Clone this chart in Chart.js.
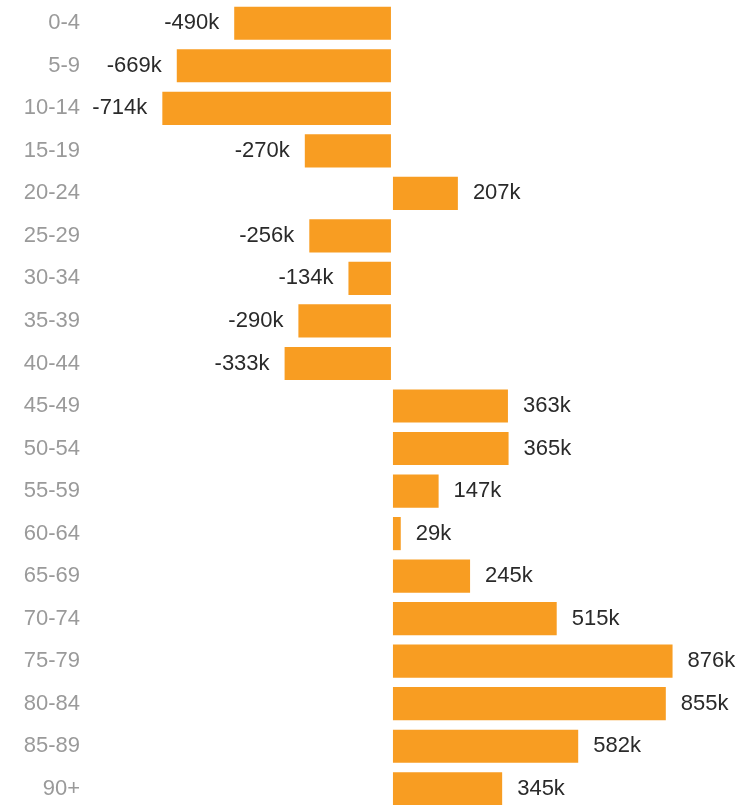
<!DOCTYPE html>
<html>
<head>
<meta charset="utf-8">
<script src="https://cdn.jsdelivr.net/npm/chart.js@4/dist/chart.umd.min.js"></script>
<style>
  html, body { margin: 0; padding: 0; background: #fff; overflow: hidden; }
  #wrap { width: 747px; height: 810px; position: relative; }
</style>
</head>
<body>
<div id="wrap"><canvas id="myChart"></canvas></div>
<script>
// age groups and change in population (thousands)
const grupos = ['0-4', '5-9', '10-14', '15-19', '20-24', '25-29', '30-34', '35-39', '40-44',
  '45-49', '50-54', '55-59', '60-64', '65-69', '70-74', '75-79', '80-84', '85-89', '90+'];
const cambio = [-490, -669, -714, -270, 207, -256, -134, -290, -333,
  363, 365, 147, 29, 245, 515, 876, 855, 582, 345];

const naranja = '#F89D22';
const fuente = '"Liberation Sans", Arial, sans-serif';

// value labels next to each bar + white gap at zero
const etiquetas = {
  id: 'etiquetas',
  afterDatasetsDraw(chart) {
    const ctx = chart.ctx;
    const meta = chart.getDatasetMeta(0);
    const x0 = chart.scales.x.getPixelForValue(0);
    ctx.save();
    ctx.fillStyle = '#fff';
    ctx.fillRect(x0 - 0.5, chart.chartArea.top, 2, chart.chartArea.bottom - chart.chartArea.top);
    ctx.font = '22px ' + fuente;
    ctx.fillStyle = '#2a2a2a';
    ctx.textBaseline = 'middle';
    meta.data.forEach((bar, i) => {
      const v = cambio[i];
      const txt = v + 'k';
      if (v < 0) {
        ctx.textAlign = 'right';
        ctx.fillText(txt, bar.x - 15, bar.y);
      } else {
        ctx.textAlign = 'left';
        ctx.fillText(txt, bar.x + 15, bar.y);
      }
    });
    ctx.restore();
  }
};

const grafico = new Chart(document.getElementById('myChart'), {
  type: 'bar',
  data: {
    labels: grupos,
    datasets: [{
      label: 'Cambio',
      data: cambio,
      backgroundColor: naranja,
      borderWidth: 0,
      barPercentage: 0.78,
      categoryPercentage: 1
    }]
  },
  options: {
    indexAxis: 'y',
    responsive: true,
    maintainAspectRatio: false,
    animation: false,
    layout: { padding: { top: 2, bottom: 0, left: 0, right: 0 } },
    plugins: {
      legend: { display: false },
      tooltip: { enabled: false }
    },
    scales: {
      x: {
        display: false,
        min: -955,
        max: 1108
      },
      y: {
        afterFit: (axis) => {
          axis.width = 85;
          axis.paddingTop = 0;
          axis.paddingBottom = 0;
        },
        grid: { display: false, drawTicks: false },
        border: { display: false },
        ticks: {
          padding: 5,
          color: '#9a9a9a',
          font: { family: fuente, size: 22 }
        }
      }
    }
  },
  plugins: [etiquetas]
});
</script>
</body>
</html>
